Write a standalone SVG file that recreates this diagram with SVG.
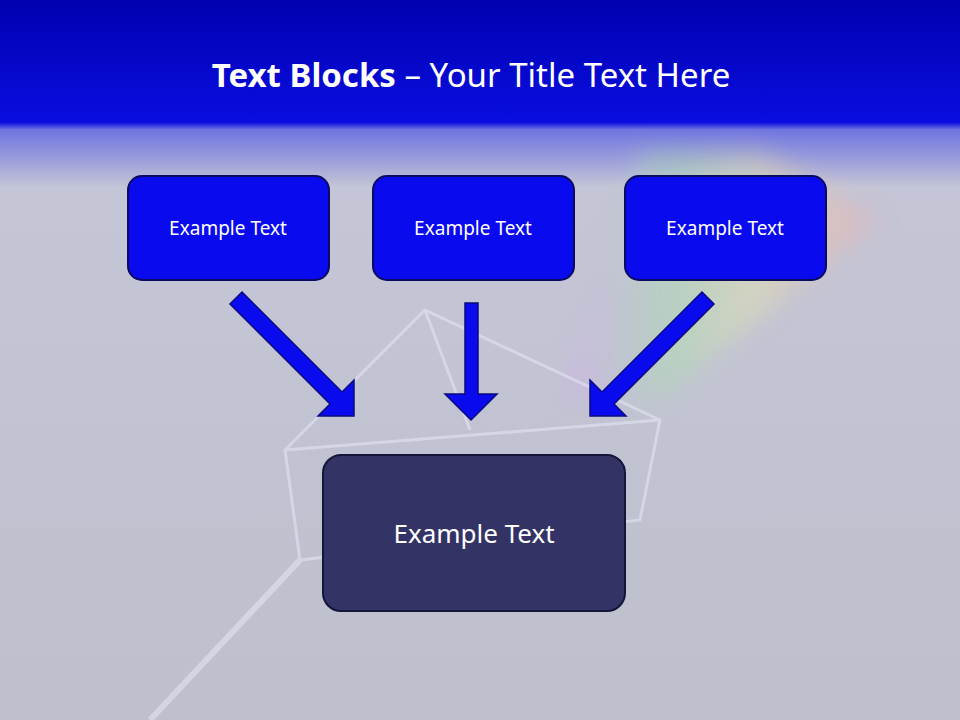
<svg xmlns="http://www.w3.org/2000/svg" width="960" height="720" viewBox="0 0 960 720">
<defs>
<linearGradient id="bg" x1="0" y1="0" x2="0" y2="1">
<stop offset="0" stop-color="#0000b0"/>
<stop offset="0.17" stop-color="#0a0ee0"/>
<stop offset="0.18" stop-color="#6f74e0"/>
<stop offset="0.26" stop-color="#c4c5d6"/>
<stop offset="1" stop-color="#bfc0cd"/>
</linearGradient>
<linearGradient id="rb" x1="0" y1="0" x2="1" y2="0">
<stop offset="0" stop-color="#e0a0ff"/>
<stop offset="0.35" stop-color="#a0e8a0"/>
<stop offset="0.6" stop-color="#f0f0a0"/>
<stop offset="1" stop-color="#ffa0a0"/>
</linearGradient>
<filter id="blur"><feGaussianBlur stdDeviation="12"/></filter>
<style>
.box{fill:#0a0aee;stroke:#0a0a60;stroke-width:2}
.arr{fill:#0a0aee;stroke:#0a0a80;stroke-width:1.5}
.t{font-family:"Noto Sans","Open Sans",sans-serif;fill:#fff;text-anchor:middle}
</style>
</defs>
<rect width="960" height="720" fill="url(#bg)"/>
<g opacity="0.35" filter="url(#blur)">
<polygon points="560,400 640,150 760,150 880,220 660,400" fill="url(#rb)"/>
</g>
<g opacity="0.45" fill="none" stroke="#eef0ff" stroke-width="3">
<polygon points="285,450 425,310 660,420 640,520 300,560"/>
<line x1="425" y1="310" x2="470" y2="430"/>
<line x1="285" y1="450" x2="660" y2="420"/>
<line x1="300" y1="560" x2="150" y2="720" stroke-width="6"/>
</g>
<text class="t" x="471" y="87" font-size="33"><tspan font-weight="bold">Text Blocks</tspan> – Your Title Text Here</text>
<g id="connectors">
<polygon class="arr" points="242,292 342,392 354,380 354,416 318,416 330,404 230,304"/>
<polygon class="arr" points="465,303 478,303 478,394 497,394 471,420 445,394 465,394"/>
<polygon class="arr" points="702,292 602,392 590,380 590,416 626,416 614,404 714,304"/>
</g>
<g id="n1"><rect class="box" x="128" y="176" width="201" height="104" rx="14"/><text class="t" x="228" y="235" font-size="19">Example Text</text></g>
<g id="n2"><rect class="box" x="373" y="176" width="201" height="104" rx="14"/><text class="t" x="473" y="235" font-size="19">Example Text</text></g>
<g id="n3"><rect class="box" x="625" y="176" width="201" height="104" rx="14"/><text class="t" x="725" y="235" font-size="19">Example Text</text></g>
<g id="n4"><rect x="323" y="455" width="302" height="156" rx="18" fill="#333366" stroke="#15153a" stroke-width="2"/><text class="t" x="474" y="543" font-size="26">Example Text</text></g>
</svg>
